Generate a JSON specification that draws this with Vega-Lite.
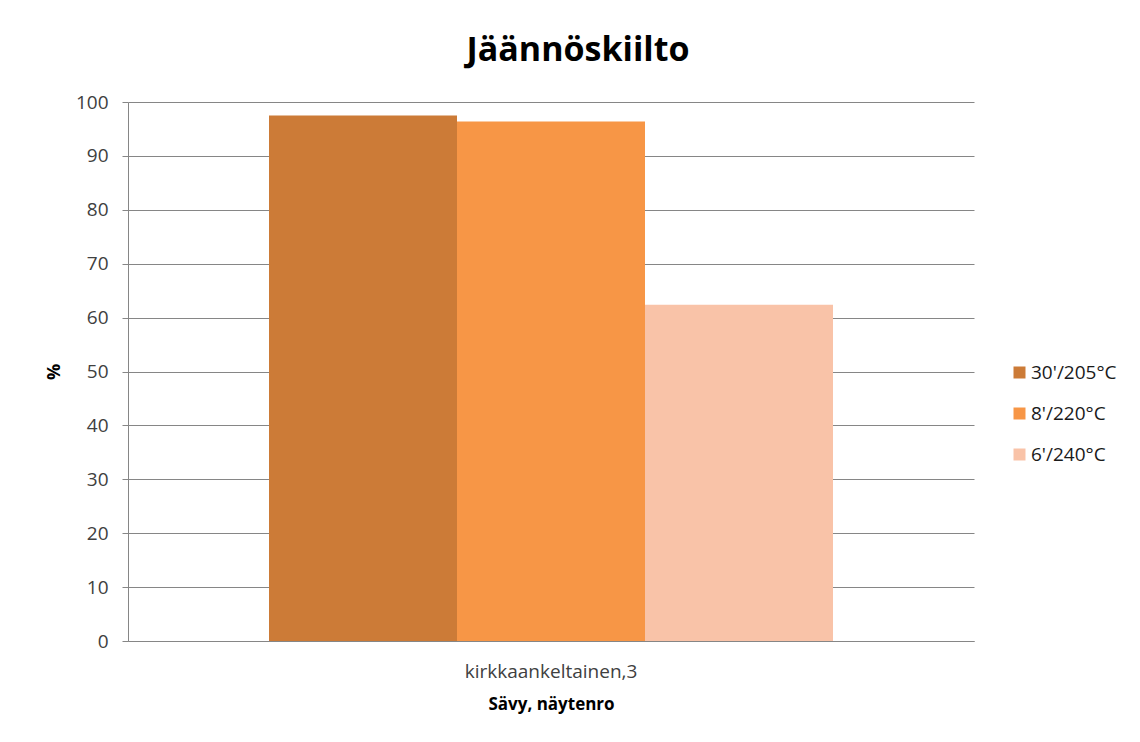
{
  "$schema": "https://vega.github.io/schema/vega-lite/v6.json",
  "autosize": {"type": "none"},
  "width": 846,
  "height": 539,
  "padding": {"left": 128, "top": 102, "right": 166, "bottom": 101},
  "background": "white",
  "title": {
    "text": "Jäännöskiilto",
    "font": "Open Sans",
    "fontSize": 34,
    "fontWeight": "bold",
    "color": "#000000",
    "anchor": "middle",
    "dx": 27,
    "offset": 25
  },
  "data": {
    "values": [
      {"sample": "kirkkaankeltainen,3", "series": "30'/205°C", "value": 97.5},
      {"sample": "kirkkaankeltainen,3", "series": "8'/220°C", "value": 96.4},
      {"sample": "kirkkaankeltainen,3", "series": "6'/240°C", "value": 62.4}
    ]
  },
  "mark": {"type": "bar"},
  "encoding": {
    "x": {
      "field": "sample",
      "type": "nominal",
      "title": "Sävy, näytenro",
      "scale": {"paddingInner": 0, "paddingOuter": 0.25},
      "axis": {
        "labelAngle": 0,
        "ticks": false,
        "labelPadding": 21,
        "labelFont": "Open Sans",
        "labelFontSize": 19,
        "labelColor": "#404040",
        "titleFont": "Open Sans",
        "titleFontSize": 17,
        "titleFontWeight": "bold",
        "titleColor": "#000000",
        "titlePadding": 15,
        "domainColor": "#868686",
        "domainWidth": 1,
        "grid": false
      }
    },
    "xOffset": {
      "field": "series",
      "type": "nominal",
      "sort": ["30'/205°C", "8'/220°C", "6'/240°C"],
      "scale": {"paddingInner": 0, "paddingOuter": 0}
    },
    "y": {
      "field": "value",
      "type": "quantitative",
      "title": "%",
      "scale": {"domain": [0, 100], "nice": false},
      "axis": {
        "values": [0, 10, 20, 30, 40, 50, 60, 70, 80, 90, 100],
        "tickSize": 6,
        "tickColor": "#868686",
        "labelPadding": 14,
        "labelFont": "Open Sans",
        "labelFontSize": 19,
        "labelColor": "#404040",
        "titleFont": "Open Sans",
        "titleFontSize": 18,
        "titleFontWeight": "bold",
        "titleColor": "#000000",
        "titlePadding": 12,
        "domainColor": "#868686",
        "gridColor": "#868686",
        "gridWidth": 1
      }
    },
    "color": {
      "field": "series",
      "type": "nominal",
      "sort": ["30'/205°C", "8'/220°C", "6'/240°C"],
      "scale": {
        "domain": ["30'/205°C", "8'/220°C", "6'/240°C"],
        "range": ["#CC7B37", "#F79646", "#F9C3A8"]
      },
      "legend": {
        "title": null,
        "orient": "none",
        "legendX": 882,
        "legendY": 261,
        "symbolType": "square",
        "symbolSize": 144,
        "symbolStrokeWidth": 0,
        "labelFont": "Open Sans",
        "labelFontSize": 19,
        "labelColor": "#1a1a1a",
        "labelOffset": 2,
        "rowPadding": 21
      }
    }
  },
  "config": {
    "view": {"stroke": null}
  }
}
